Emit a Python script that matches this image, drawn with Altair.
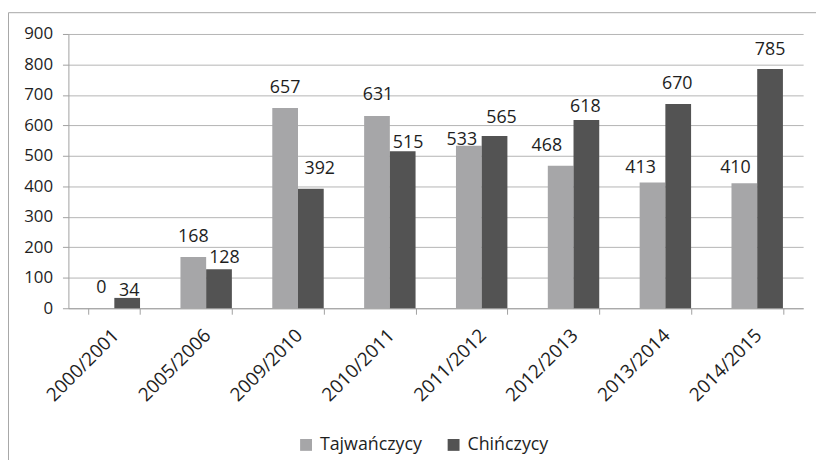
import altair as alt
import pandas as pd

categories = ["2000/2001", "2005/2006", "2009/2010", "2010/2011",
              "2011/2012", "2012/2013", "2013/2014", "2014/2015"]
series = ["Tajwańczycy", "Chińczycy"]
tajwanczycy = [0, 168, 657, 631, 533, 468, 413, 410]
chinczycy = [34, 128, 392, 515, 565, 618, 670, 785]
colors = ["#a6a6a8", "#535353"]
y_ticks = [0, 100, 200, 300, 400, 500, 600, 700, 800, 900]

# style: per-label nudges (pixels) as placed in the original
label_dx = {series[0]: [0, 0, 0, 1, -7, -14, -12, -9],
            series[1]: [2, 5.5, 9, 5.5, 7, -1, -1, 0]}
label_gap = {series[0]: [15, 15, 15.5, 16, 1, 15, 9, 10],
             series[1]: [2, 6, 15, 3, 13, 8, 15, 14]}

rows = []
for i, c in enumerate(categories):
    rows.append({"rok": c, "seria": series[0], "wartosc": tajwanczycy[i]})
    rows.append({"rok": c, "seria": series[1], "wartosc": chinczycy[i]})
df = pd.DataFrame(rows)

FONT = "Open Sans"
TXT = "#1e1e1e"
W, H = 742, 277

x_enc = alt.X(
    "rok:N", sort=categories, title=None,
    scale=alt.Scale(paddingInner=0.44, paddingOuter=0.22),
    axis=alt.Axis(labelAngle=315, labelAlign="right", labelBaseline="middle",
                  labelFontSize=19, labelFont=FONT, labelColor=TXT,
                  labelPadding=18, labelOffset=1, tickBand="extent", tickSize=6,
                  tickColor="#a0a0a0", domainColor="#a0a0a0", grid=False,
                  labelOverlap=False),
)
xo_enc = alt.XOffset("seria:N", sort=series,
                     scale=alt.Scale(paddingInner=0, paddingOuter=0))
y_enc = alt.Y(
    "wartosc:Q", title=None,
    scale=alt.Scale(domain=[0, 900], nice=False),
    axis=alt.Axis(values=y_ticks, labelFontSize=17, labelFont=FONT,
                  labelColor=TXT, labelPadding=10, tickSize=6,
                  tickColor="#a0a0a0", domainColor="#a0a0a0",
                  gridColor="#b4b4b4", grid=True, labelOverlap=False,
                  labelFlush=False),
)

bars = alt.Chart(df).mark_bar().encode(
    x=x_enc, xOffset=xo_enc, y=y_enc,
    color=alt.Color("seria:N", sort=series,
                    scale=alt.Scale(domain=series, range=colors),
                    legend=alt.Legend(title=None, orient="none",
                                      direction="horizontal",
                                      legendX=231, legendY=406,
                                      symbolType="square", symbolSize=144,
                                      symbolStrokeWidth=0,
                                      labelFontSize=18, labelFont=FONT,
                                      labelColor=TXT, columnPadding=22,
                                      labelOffset=5)),
)

label_layers = []
for s in series:
    for i, c in enumerate(categories):
        label_layers.append(
            alt.Chart(df).transform_filter(
                (alt.datum.rok == c) & (alt.datum.seria == s)
            ).mark_text(
                font=FONT, fontSize=18, color=TXT, baseline="alphabetic",
                dx=label_dx[s][i], dy=-label_gap[s][i]
            ).encode(
                x=x_enc, xOffset=xo_enc, y=y_enc, text=alt.Text("wartosc:Q"),
            )
        )

frame = alt.Chart(pd.DataFrame({"f": [1]})).mark_rect(
    fillOpacity=0, stroke="#a6a6a6", strokeWidth=1
).encode(
    x=alt.value(-60.5), x2=alt.value(780), y=alt.value(-21.5), y2=alt.value(480)
)

chart = alt.layer(frame, bars, *label_layers).properties(
    width=W, height=H,
    autosize=alt.AutoSizeParams(type="none"),
    padding={"left": 61, "top": 24, "right": 13, "bottom": 151},
).configure_view(stroke=None)

chart.save("out.html", embed_options={"renderer": "svg", "actions": False})
